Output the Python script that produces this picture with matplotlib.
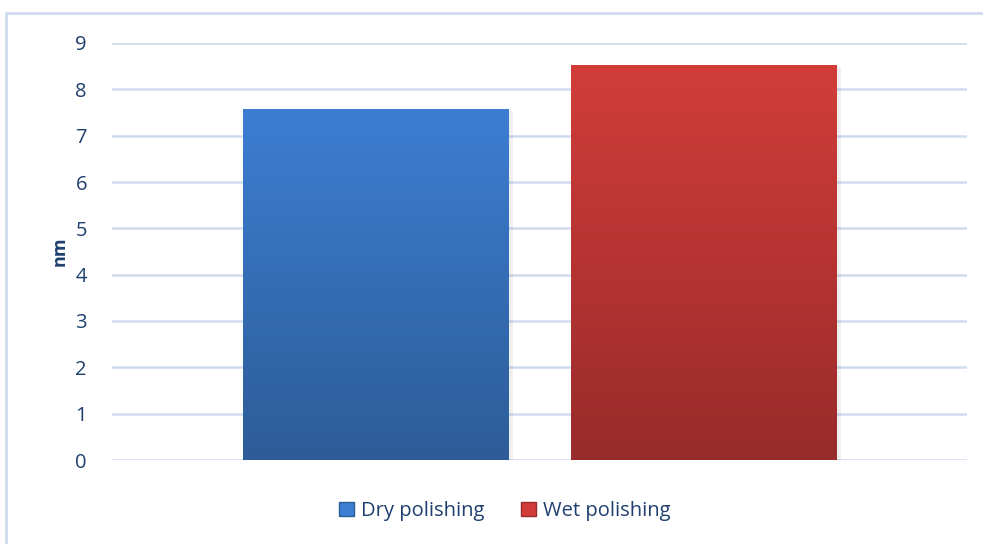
import matplotlib
matplotlib.use("Agg")
import matplotlib.pyplot as plt
import numpy as np
from matplotlib.patches import Rectangle, Patch
from matplotlib.colors import LinearSegmentedColormap

series = ["Dry polishing", "Wet polishing"]
values = [7.58, 8.53]
yticks = [0, 1, 2, 3, 4, 5, 6, 7, 8, 9]
ylabel = "nm"

top_colors = ["#3D7ED2", "#D23D39"]
bot_colors = ["#2D5C98", "#982B2B"]
offsets = [-0.1915, 0.1915]
width = 0.31

plt.rcParams['font.family'] = ['Open Sans', 'DejaVu Sans']
text_color = "#1F3F6E"
grid_color = "#CFDCEF"

fig = plt.figure(figsize=(9.83, 5.44), dpi=100)
W, H = 983, 544
ax = fig.add_axes([112 / W, 1 - 460 / H, (967 - 112) / W, (460 - 43) / H])
ax.set_xlim(-0.5, 0.5)
ax.set_ylim(0, 9)

for v, off, tc, bc, name in zip(values, offsets, top_colors, bot_colors, series):
    x0 = off - width / 2
    sh = Rectangle((x0 + 0.006, 0), width, v - 0.05, facecolor="#000000", alpha=0.06,
                   edgecolor="none", zorder=2)
    ax.add_patch(sh)
    cmap = LinearSegmentedColormap.from_list(name, [bc, tc])
    grad = np.linspace(0, 1, 256).reshape(-1, 1)
    im = ax.imshow(grad, extent=[x0, x0 + width, 0, v], origin="lower", cmap=cmap,
                   aspect="auto", zorder=3)
    rect = Rectangle((x0, 0), width, v, facecolor="none", edgecolor="none", zorder=3)
    ax.add_patch(rect)
    im.set_clip_path(rect)

ax.set_xlim(-0.5, 0.5)
ax.set_ylim(0, 9)
ax.set_yticks(yticks)
ax.set_yticklabels([str(t) for t in yticks], fontsize=14.5, color=text_color)
ax.tick_params(axis="y", length=0, pad=18)
ax.set_xticks([])
for s in ax.spines.values():
    s.set_visible(False)
ax.yaxis.grid(True, color=grid_color, linewidth=1.8, zorder=1)
ax.set_axisbelow(True)
ax.set_ylabel(ylabel, fontsize=13, fontweight="bold", color=text_color, labelpad=5)

handles = [Patch(facecolor=tc, edgecolor=bc, label=name)
           for tc, bc, name in zip(top_colors, bot_colors, series)]
fig.legend(handles=handles, loc="center", bbox_to_anchor=(505 / W, 1 - 511 / H),
           ncol=2, frameon=False, fontsize=14.5, labelcolor=text_color,
           handlelength=0.75, handleheight=0.75, handletextpad=0.35, columnspacing=1.8)

border = Rectangle((6 / W, -0.1), 1.2, 1 - 13 / H + 0.1, transform=fig.transFigure,
                   facecolor="none", edgecolor=grid_color, linewidth=2, zorder=0)
fig.patches.append(border)

fig.savefig("out.png", dpi=100)
